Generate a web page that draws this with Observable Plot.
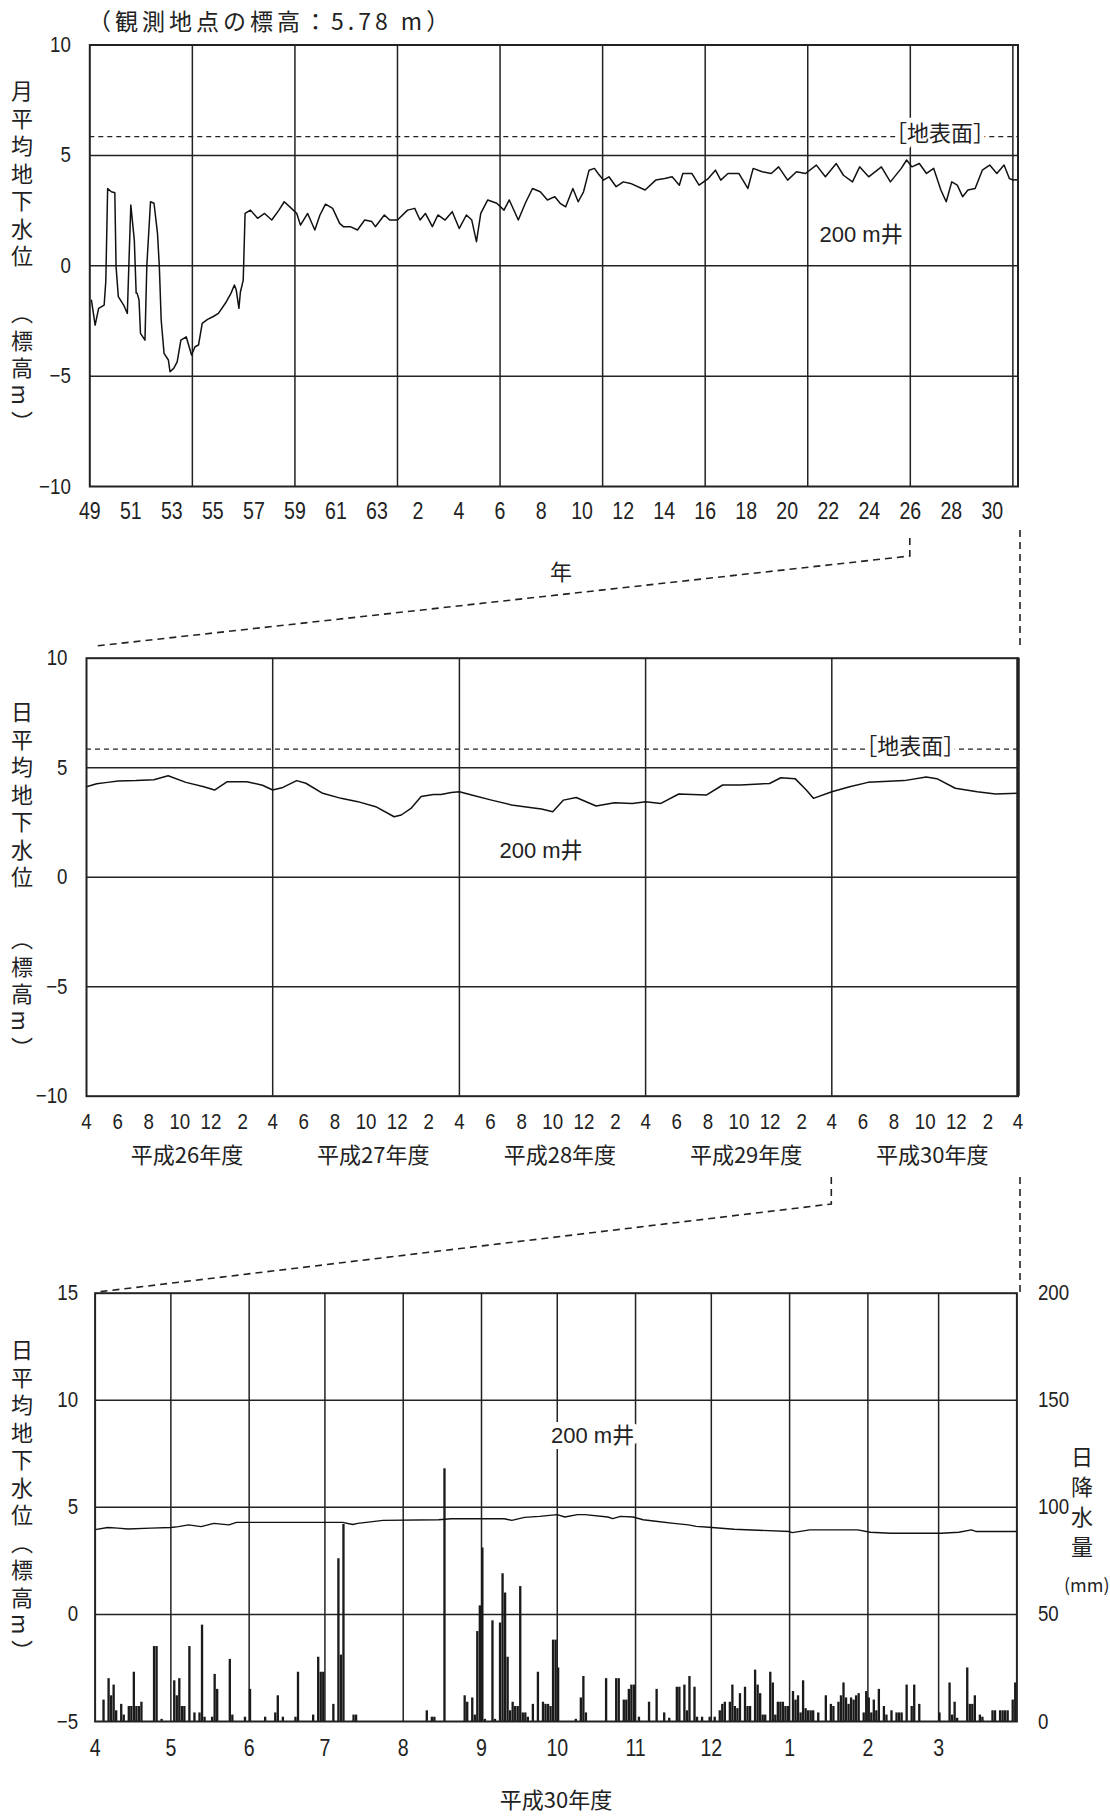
<!DOCTYPE html>
<html><head><meta charset="utf-8">
<script src="https://cdn.jsdelivr.net/npm/d3@7"></script>
<script src="https://cdn.jsdelivr.net/npm/@observablehq/plot@0.6"></script>
<style>
body{margin:0;background:#fff;}
#wrap{position:relative;width:1110px;height:1818px;overflow:hidden;color:#222;font-family:"Liberation Sans","Noto Sans CJK JP",sans-serif;}
#wrap svg{position:absolute;left:0;}
.lab{position:absolute;font-family:"Noto Sans CJK JP",sans-serif;font-size:22px;line-height:1;white-space:nowrap;z-index:2;}
.v{writing-mode:vertical-rl;letter-spacing:5.5px;}
#overlay{position:absolute;left:0;top:0;z-index:3;pointer-events:none;}
</style></head><body><div id="wrap"></div>
<script>
// ================= DATA =================
// Panel 1: monthly mean groundwater level (m), decimal years (Showa 49 – Heisei 30)
const p1Years = [1974.08,1974.26,1974.43,1974.70,1974.78,1974.87,1975.05,1975.22,1975.28,1975.39,1975.65,1975.83,1975.92,
 1976.00,1976.17,1976.26,1976.31,1976.40,1976.47,1976.69,1976.78,1976.96,1977.13,1977.30,1977.39,1977.48,1977.62,1977.83,1977.91,
 1978.09,1978.26,1978.44,1978.70,1978.96,1979.13,1979.30,1979.48,1979.74,1980.00,1980.27,1980.61,1980.88,1981.05,1981.14,1981.27,
 1981.34,1981.48,1981.57,1981.83,1982.18,1982.52,1982.87,1983.22,1983.48,1983.83,1984.09,1984.27,1984.62,1984.97,1985.22,1985.49,
 1985.84,1986.18,1986.36,1986.70,1987.05,1987.40,1987.75,1987.92,1988.36,1988.62,1989.00,1989.49,1989.84,1990.10,1990.36,1990.70,
 1990.97,1991.32,1991.67,1992.01,1992.36,1992.62,1992.85,1993.06,1993.40,1993.84,1994.19,1994.45,1994.89,1995.23,1995.58,1995.96,
 1996.31,1996.67,1996.93,1997.20,1997.55,1997.81,1998.07,1998.34,1998.60,1998.78,1999.04,1999.31,1999.66,2000.01,2000.36,2001.07,
 2001.59,2002.03,2002.39,2002.74,2002.91,2003.35,2003.70,2004.15,2004.50,2004.76,2005.11,2005.64,2006.08,2006.34,2006.78,2007.22,
 2007.58,2008.02,2008.45,2008.89,2009.42,2009.86,2010.39,2010.74,2011.18,2011.53,2011.97,2012.59,2013.03,2013.56,2013.82,2014.08,
 2014.44,2014.79,2015.14,2015.49,2015.75,2016.02,2016.29,2016.55,2016.81,2017.16,2017.51,2017.87,2018.22,2018.57,2018.83,2019.01,2019.2];
const p1Levels = [-1.56,-2.69,-1.93,-1.78,-0.70,3.50,3.35,3.31,-0.04,-1.40,-1.78,-2.16,0.50,
 2.75,1.16,-1.24,-1.25,-1.55,-3.06,-3.37,0.00,2.90,2.83,1.47,-0.04,-2.46,-3.97,-4.27,-4.80,
 -4.65,-4.35,-3.37,-3.22,-4.04,-3.67,-3.59,-2.61,-2.43,-2.31,-2.16,-1.70,-1.25,-0.87,-1.10,-1.93,
 -1.20,-0.65,2.37,2.52,2.15,2.37,2.07,2.52,2.90,2.60,2.37,1.84,2.37,1.62,2.30,2.79,
 2.60,1.92,1.77,1.77,1.62,2.07,2.00,1.77,2.30,2.07,2.07,2.52,2.60,2.07,2.37,1.77,
 2.30,2.07,2.45,1.69,2.30,2.07,1.09,2.37,2.98,2.83,2.52,2.98,2.07,2.83,3.50,3.35,
 2.98,3.13,2.83,2.67,3.50,2.90,3.35,4.33,4.41,4.18,3.88,4.03,3.58,3.80,3.73,3.43,
 3.88,3.95,4.03,3.65,4.18,4.18,3.65,3.95,4.33,3.88,4.18,4.18,3.50,4.41,4.26,4.18,
 4.48,3.88,4.26,4.18,4.56,4.03,4.63,4.10,3.80,4.48,4.03,4.48,3.80,4.41,4.79,4.48,
 4.63,4.18,4.41,3.43,2.90,3.80,3.65,3.13,3.43,3.50,4.33,4.56,4.18,4.56,3.95,3.88,3.9];
const p1GridYears = [1979,1984,1989,1994,1999,2004,2009,2014,2019];
const p1TickYears = [1974,1976,1978,1980,1982,1984,1986,1988,1990,1992,1994,1996,1998,2000,2002,2004,2006,2008,2010,2012,2014,2016,2018];
const p1TickLabels = ["49","51","53","55","57","59","61","63","2","4","6","8","10","12","14","16","18","20","22","24","26","28","30"];
const groundSurface = 5.85;   // 地表面 line as drawn
const levelTicks = [-10,-5,0,5,10];

// Panel 2: daily mean groundwater level, FY H26–H30
const p2Dates = ["2014-04-01","2014-04-21","2014-05-12","2014-06-02","2014-07-07","2014-08-11","2014-09-08","2014-10-13","2014-11-17","2014-12-08",
 "2015-01-02","2015-02-09","2015-03-12","2015-04-01","2015-04-21","2015-05-18","2015-06-05","2015-07-08","2015-08-13","2015-09-15","2015-10-20",
 "2015-11-25","2015-12-09","2015-12-28","2016-01-17","2016-02-10","2016-02-25","2016-03-16","2016-04-01","2016-04-25","2016-06-03","2016-07-12",
 "2016-08-21","2016-09-09","2016-10-01","2016-10-22","2016-11-16","2016-12-25","2017-01-30","2017-03-06","2017-04-01","2017-05-01","2017-06-05",
 "2017-07-29","2017-08-30","2017-10-04","2017-11-30","2017-12-22","2018-01-19","2018-02-10","2018-02-24","2018-04-01","2018-05-06","2018-06-11",
 "2018-08-21","2018-10-03","2018-10-24","2018-11-29","2019-01-11","2019-02-16","2019-03-31"];
const p2Levels = [4.13,4.27,4.33,4.39,4.41,4.45,4.63,4.33,4.13,3.98,
 4.36,4.36,4.20,3.98,4.10,4.41,4.29,3.83,3.60,3.45,3.22,
 2.76,2.84,3.14,3.68,3.78,3.78,3.87,3.90,3.75,3.52,3.30,
 3.17,3.11,2.99,3.52,3.64,3.25,3.40,3.37,3.45,3.37,3.80,
 3.75,4.21,4.21,4.28,4.54,4.50,3.98,3.60,3.90,4.13,4.33,
 4.41,4.58,4.50,4.06,3.90,3.80,3.83];
const fiscalYears = [2014,2015,2016,2017,2018];
const fyLabels = ["平成26年度","平成27年度","平成28年度","平成29年度","平成30年度"];
const p2TickMonths = [4,6,8,10,12,2];

// Panel 3: FY H30 (day 0 = 2018-04-01)
const p3Days = [0,5,9,13,22,30,33,37,42,47,53,56,62,90,98,102,104,114,136,141,153,162,165,170,176,183,186,191,194,203,205,208,213,217,222,230,235,238,243,253,275,276,283,302,307,315,335,342,347,349,365];
const p3Levels = [3.96,4.06,4.03,3.99,4.03,4.06,4.10,4.18,4.10,4.25,4.18,4.30,4.30,4.30,4.30,4.20,4.25,4.39,4.42,4.47,4.47,4.47,4.39,4.53,4.58,4.66,4.55,4.66,4.66,4.55,4.47,4.58,4.55,4.42,4.35,4.24,4.18,4.11,4.07,3.98,3.87,3.82,3.95,3.95,3.84,3.79,3.79,3.84,3.95,3.87,3.87];
const rainDays = [3,5,6,7,8,10,11,13,14,15,16,17,18,23,24,26,
 31,32,33,34,35,37,39,41,42,43,46,47,48,53,54,59,
 61,67,71,72,74,79,80,86,88,89,90,
 94,96,97,98,102,103,
 131,133,134,138,146,147,149,150,151,152,
 153,154,157,158,160,161,162,163,164,165,166,167,168,169,170,171,173,175,177,178,179,180,181,182,
 183,190,192,193,194,202,206,207,209,210,211,212,213,
 215,219,222,225,227,230,231,233,234,235,237,238,240,
 243,245,247,248,249,251,252,253,254,255,257,258,259,261,262,263,264,265,267,268,269,270,271,272,273,274,
 276,277,278,279,280,281,282,283,284,286,289,291,292,294,295,296,297,298,299,300,301,302,304,305,
 306,307,308,309,310,312,313,315,317,318,319,321,323,324,326,
 334,338,339,340,341,345,346,347,348,350,351,355,356,358,359,360,361,363,364];
const rainMM = [10,20,12,17,5,8,3,7,7,23,7,7,9,35,35,1,
 19,12,20,7,7,35,4,4,45,2,2,22,15,29,3,2,
 15,2,4,12,2,2,23,3,30,23,23,
 8,76,31,92,3,3,
 5,2,2,118,12,9,11,3,42,54,
 81,1,47,1,46,69,60,30,5,9,7,7,63,4,4,2,8,23,9,8,8,7,38,38,
 25,1,11,21,4,20,20,20,10,10,15,17,17,
 2,9,15,4,1.5,16,16,17,5,21,16,2,2,
 2,2,5,8,9,9,17,7,6,13,16,7,7,24,17,13,3,3,23,18,3,9,9,9,7,7,
 14,10,12,4,19,6,5,5,5,4,12,8,7,9,12,18,11,8,11,10,12,13,4,14,
 11,4,10,5,15,7,3,5,4,4,4,17,7,17,8,
 4,18,3,9,1.5,25,8,8,12,3,2,5,5,5,5,5,5,10,18];
const p3LevelTicks = [-5,0,5,10,15];
const rainTicks = [0,50,100,150,200];

// ================= RENDER =================
const FONT = '"Liberation Sans","Noto Sans CJK JP",sans-serif';
const JP = '"Noto Sans CJK JP",sans-serif';
const INK = "#222";
const style = {fontFamily: FONT, fontSize: "22px", color: INK, background: "transparent", overflow: "visible"};
const gridOpt = {stroke: INK, strokeOpacity: 1, strokeWidth: 1.5};
const wrap = document.getElementById("wrap");
const DAY = 864e5;

// narrow the numeric tick labels like the condensed face of the original
function condense(svg, k) {
  svg.querySelectorAll('g[aria-label$="tick label"] text').forEach(t => {
    const L = t.getComputedTextLength();
    if (L > 0) { t.setAttribute("textLength", (L * k).toFixed(2)); t.setAttribute("lengthAdjust", "spacingAndGlyphs"); }
  });
}

// ---- Panel 1
const p1Data = p1Years.map((y, i) => ({year: y, level: p1Levels[i]}));
const p1LabelMap = new Map(p1TickYears.map((y, i) => [y, p1TickLabels[i]]));
const p1 = Plot.plot({
  width: 1110, height: 530,
  marginTop: 44.5, marginBottom: 44, marginLeft: 89.3, marginRight: 92.5,
  style,
  x: {domain: [1974, 2019.25]},
  y: {domain: [-10, 10]},
  marks: [
    Plot.gridX(p1GridYears, gridOpt),
    Plot.gridY([-5, 0, 5], gridOpt),
    Plot.ruleY([groundSurface], {stroke: INK, strokeWidth: 1.4, strokeDasharray: "5,4"}),
    Plot.line(p1Data, {x: "year", y: "level", stroke: "#111", strokeWidth: 1.5}),
    Plot.text([{t: "［地表面］", x: 2015.45}], {x: "x", y: groundSurface, text: "t", dy: -3, fill: INK, stroke: "white", strokeWidth: 10, paintOrder: "stroke", fontFamily: JP, fontSize: 22}),
    Plot.text([{t: "200 m井", x: 2011.6}], {x: "x", y: 1.4, text: "t", fill: INK, fontSize: 22}),
    Plot.frame({stroke: INK, strokeWidth: 2}),
    Plot.axisX(p1TickYears, {tickSize: 0, tickPadding: 16, fontSize: 23, tickFormat: d => p1LabelMap.get(d), label: null}),
    Plot.axisY(levelTicks, {tickSize: 0, tickPadding: 19, fontSize: 22, label: null})
  ]
});
p1.style.top = "0px";
wrap.appendChild(p1);
condense(p1, 0.85);

// ---- Panel 2
const p2Data = p2Dates.map((d, i) => ({date: new Date(d), level: p2Levels[i]}));
const fyStart = fiscalYears.map(y => new Date(Date.UTC(y, 3, 1)));
const p2End = new Date(Date.UTC(fiscalYears[fiscalYears.length - 1] + 1, 3, 1));
const p2Ticks = [];
fiscalYears.forEach(y => p2TickMonths.forEach(m => p2Ticks.push(new Date(Date.UTC(m >= 4 ? y : y + 1, m - 1, 1)))));
p2Ticks.push(p2End);
const fyText = fiscalYears.map((y, i) => ({t: fyLabels[i], x: new Date(Date.UTC(y, 9, 15))}));
const p2 = Plot.plot({
  width: 1110, height: 580,
  marginTop: 57.7, marginBottom: 84.3, marginLeft: 86, marginRight: 92.5,
  style,
  x: {type: "utc", domain: [fyStart[0], p2End]},
  y: {domain: [-10, 10]},
  marks: [
    Plot.gridX(fyStart.slice(1), gridOpt),
    Plot.gridY([-5, 0, 5], gridOpt),
    Plot.ruleY([groundSurface], {stroke: INK, strokeWidth: 1.4, strokeDasharray: "5,4"}),
    Plot.line(p2Data, {x: "date", y: "level", stroke: "#111", strokeWidth: 1.5}),
    Plot.text([{t: "［地表面］", x: new Date("2018-09-02")}], {x: "x", y: groundSurface, text: "t", dy: -2, fill: INK, stroke: "white", strokeWidth: 10, paintOrder: "stroke", fontFamily: JP, fontSize: 22}),
    Plot.text([{t: "200 m井", x: new Date("2016-09-08")}], {x: "x", y: 1.2, text: "t", fill: INK, fontSize: 22}),
    Plot.frame({stroke: INK, strokeWidth: 2}),
    Plot.ruleX([p2End], {stroke: INK, strokeWidth: 3.5}),
    Plot.axisX(p2Ticks, {tickSize: 0, tickPadding: 17, fontSize: 22, tickFormat: d => String(d.getUTCMonth() + 1), label: null}),
    Plot.text(fyText, {x: "x", text: "t", frameAnchor: "bottom", dy: 67, fontFamily: JP, fontSize: 22, fill: INK}),
    Plot.axisY(levelTicks, {tickSize: 0, tickPadding: 19, fontSize: 22, label: null})
  ]
});
p2.style.top = "600px";
wrap.appendChild(p2);
condense(p2, 0.85);

// ---- Panel 3
const fy30 = Date.UTC(2018, 3, 1);
const p3Data = p3Days.map((d, i) => ({date: new Date(fy30 + d * DAY), level: p3Levels[i]}));
const rain = rainDays.map((d, i) => ({x1: new Date(fy30 + d * DAY), x2: new Date(fy30 + (d + 1) * DAY), mm: rainMM[i]}));
const p3Months = d3.utcMonths(new Date(fy30), new Date(Date.UTC(2019, 3, 1)));
const mmToLevel = mm => p3LevelTicks[0] + mm / 10;
const p3 = Plot.plot({
  width: 1110, height: 578,
  marginTop: 52.7, marginBottom: 97, marginLeft: 94.6, marginRight: 93.6,
  style,
  x: {type: "utc", domain: [new Date(fy30), new Date(Date.UTC(2019, 3, 1))]},
  y: {domain: [-5, 15]},
  marks: [
    Plot.gridX(p3Months.slice(1), gridOpt),
    Plot.gridY([0, 5, 10], gridOpt),
    Plot.rect(rain, {x1: "x1", x2: "x2", y1: mmToLevel(0), y2: d => mmToLevel(d.mm), fill: "#1a1a1a", insetLeft: 0.2}),
    Plot.line(p3Data, {x: "date", y: "level", stroke: "#111", strokeWidth: 1.4}),
    Plot.text([{t: "200 m井", x: new Date("2018-10-15")}], {x: "x", y: 8.35, text: "t", fill: INK, stroke: "white", strokeWidth: 12, paintOrder: "stroke", fontSize: 22}),
    Plot.frame({stroke: INK, strokeWidth: 2}),
    Plot.axisX(p3Months, {tickSize: 0, tickPadding: 18, fontSize: 23, tickFormat: d => String(d.getUTCMonth() + 1), label: null}),
    Plot.axisY(p3LevelTicks, {anchor: "left", tickSize: 0, tickPadding: 17, fontSize: 22, label: null}),
    Plot.axisY(rainTicks.map(mmToLevel), {anchor: "right", tickSize: 0, tickPadding: 21, fontSize: 22, label: null, tickFormat: v => String(Math.round((v - p3LevelTicks[0]) * 10))}),
    Plot.text(["平成30年度"], {frameAnchor: "bottom", dy: 86, fontFamily: JP, fontSize: 22, fill: INK})
  ]
});
p3.style.top = "1240px";
wrap.appendChild(p3);
condense(p3, 0.85);

// ---- HTML labels
function lab(text, cls, left, top, extra) {
  const d = document.createElement("div");
  d.className = "lab " + cls;
  d.textContent = text;
  d.style.left = left + "px"; d.style.top = top + "px";
  if (extra) Object.assign(d.style, extra);
  wrap.appendChild(d);
  return d;
}
lab("（観測地点の標高：5.78 m）", "", 88, 9, {letterSpacing: "4px", fontSize: "23px"});
lab("月平均地下水位", "v", 11, 80);
lab("（標高m）", "v", 11, 302);
lab("年", "", 550, 559);
lab("日平均地下水位", "v", 11, 701);
lab("（標高m）", "v", 11, 928);
lab("日平均地下水位（標高m）", "v", 11, 1339);
lab("日降水量", "v", 1071, 1446, {letterSpacing: "8px"});
lab("(mm)", "", 1064, 1575, {fontSize: "18px"});

// ---- connectors (dashed), positioned from the plots' own scales
const ov = d3.select(wrap).append("svg").attr("id", "overlay").attr("width", 1110).attr("height", 1818);
const dash = {stroke: INK, "stroke-width": 1.6, "stroke-dasharray": "7,5", fill: "none"};
function path(pts) {
  const p = ov.append("path").attr("d", d3.line()(pts));
  Object.entries(dash).forEach(([k, v]) => p.attr(k, v));
}
const x1a = p1.scale("x").apply(2014);
const x1r = p1.scale("x").apply(2019.25) + 2.5;
const x2l = p2.scale("x").apply(fyStart[0]);
path([[x1a, 538], [x1a, 556], [x2l + 10, 646]]);
path([[x1r, 530], [x1r, 647]]);
const x2a = p2.scale("x").apply(fyStart[4]);
const x3l = p3.scale("x").apply(new Date(fy30));
path([[x2a, 1177], [x2a, 1204], [x3l + 3, 1292]]);
path([[x1r, 1177], [x1r, 1292]]);
</script></body></html>
